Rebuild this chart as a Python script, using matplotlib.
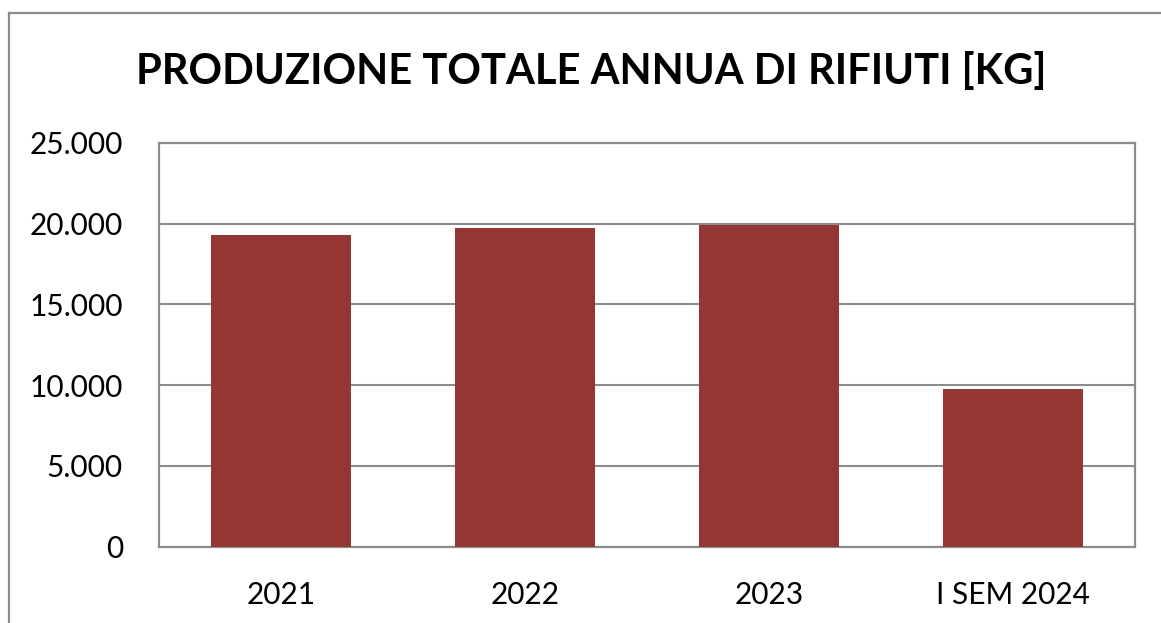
import matplotlib
matplotlib.use("Agg")
import matplotlib.pyplot as plt
from matplotlib.ticker import FuncFormatter, MultipleLocator
from matplotlib.lines import Line2D

categories = ["2021", "2022", "2023", "I SEM 2024"]
values = [19300, 19750, 19930, 9750]
title = "PRODUZIONE TOTALE ANNUA DI RIFIUTI [KG]"

W, H = 1161, 623
fig = plt.figure(figsize=(W / 100, H / 100), dpi=100)
plt.rcParams['font.family'] = ['Lato', 'DejaVu Sans']

ax = fig.add_axes([159 / W, 1 - 546.5 / H, (1135 - 159) / W, (546.5 - 143) / H])
x = range(len(categories))
ax.bar(x, values, width=0.57, color="#943634", zorder=3)
ax.set_xlim(-0.5, len(categories) - 0.5)
ax.set_ylim(0, 25000)
ax.yaxis.set_major_locator(MultipleLocator(5000))
ax.yaxis.set_major_formatter(FuncFormatter(lambda v, p: f"{int(v):,}".replace(",", ".")))
ax.set_xticks(list(x))
ax.set_xticklabels(categories)
ax.grid(axis="y", color="#8c8c8c", linewidth=1.5, zorder=0)
for s in ax.spines.values():
    s.set_color("#8c8c8c")
    s.set_linewidth(1.6)
ax.tick_params(axis="both", length=0, labelsize=21.5, colors="black")
ax.tick_params(axis="y", pad=26)
ax.tick_params(axis="x", pad=25)

fig.text(591 / W, 1 - 72 / H, title, ha="center", va="center",
         fontsize=30, fontweight="bold", color="black")

# outer chart border
fig.add_artist(Line2D([9 / W, 9 / W], [0, 1 - 13 / H], transform=fig.transFigure,
                      color="#8c8c8c", linewidth=1.6))
fig.add_artist(Line2D([9 / W, 1], [1 - 13 / H, 1 - 13 / H], transform=fig.transFigure,
                      color="#8c8c8c", linewidth=1.6))

fig.savefig("out.png", dpi=100)
